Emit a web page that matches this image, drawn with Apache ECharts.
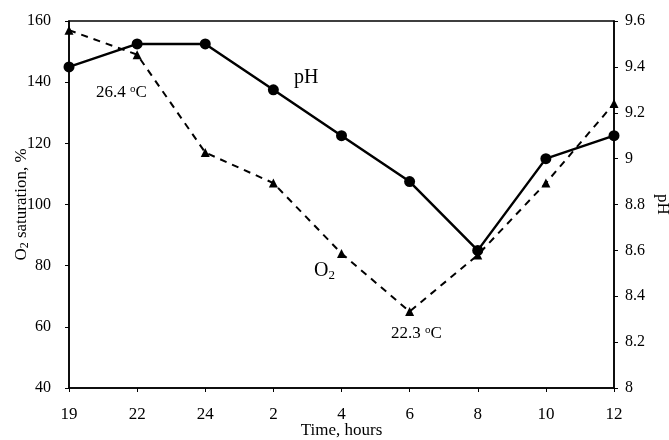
<!DOCTYPE html>
<html>
<head>
<meta charset="utf-8">
<script src="https://cdn.jsdelivr.net/npm/echarts@6/dist/echarts.min.js"></script>
<style>
  html, body { margin: 0; padding: 0; background: #fff; }
  #chart { width: 669px; height: 440px; }
</style>
</head>
<body>
<div id="chart"></div>
<script>
// data
var hours = ['19', '22', '24', '2', '4', '6', '8', '10', '12'];
var o2Saturation = [157, 149, 117, 107, 84, 65, 83.5, 107, 133];
var phValues = [9.4, 9.5, 9.5, 9.3, 9.1, 8.9, 8.6, 9.0, 9.1];

var serif = 'Liberation Serif';
var chart = echarts.init(document.getElementById('chart'));

var option = {
    backgroundColor: '#fff',
    animation: false,
    textStyle: { fontFamily: serif, color: '#000' },
    grid: {
        left: 69, right: 55, top: 21, bottom: 52,
        outerBoundsMode: 'none',
        show: true, borderColor: '#000', borderWidth: 1.5
    },
    xAxis: {
        type: 'category',
        data: hours,
        boundaryGap: false,
        name: 'Time, hours',
        nameLocation: 'middle',
        nameGap: 34,
        nameMoveOverlap: false,
        nameTextStyle: { fontFamily: serif, fontSize: 17, color: '#000' },
        axisLine: { lineStyle: { color: '#000', width: 1.5 } },
        axisTick: { alignWithLabel: true, length: 4, lineStyle: { color: '#000' } },
        axisLabel: { fontFamily: serif, fontSize: 17, color: '#000', margin: 18 },
        splitLine: { show: false }
    },
    yAxis: [
        {
            type: 'value',
            min: 40, max: 160, interval: 20,
            name: '{t|O}{s|2}{t| saturation, %}',
            nameLocation: 'middle',
            nameRotate: 90,
            nameGap: 38,
            nameMoveOverlap: false,
            nameTextStyle: {
                rich: {
                    t: { fontFamily: serif, fontSize: 17, color: '#000' },
                    s: { fontFamily: serif, fontSize: 12, color: '#000', verticalAlign: 'bottom', padding: [7, 0, 0, 0] }
                }
            },
            axisLine: { show: true, lineStyle: { color: '#000', width: 1.5 } },
            axisTick: { show: true, length: 4, lineStyle: { color: '#000' } },
            axisLabel: { fontFamily: serif, fontSize: 16, color: '#000', margin: 18 },
            splitLine: { show: false }
        },
        {
            type: 'value',
            min: 8, max: 9.6, interval: 0.2,
            name: 'pH',
            nameLocation: 'middle',
            nameRotate: -90,
            nameGap: 40,
            nameMoveOverlap: false,
            nameTextStyle: { fontFamily: serif, fontSize: 17, color: '#000' },
            axisLine: { show: true, lineStyle: { color: '#000', width: 1.5 } },
            axisTick: { show: true, length: 4, lineStyle: { color: '#000' } },
            axisLabel: {
                fontFamily: serif, fontSize: 16, color: '#000', margin: 11,
                formatter: function (v) { return String(Math.round(v * 10) / 10); }
            },
            splitLine: { show: false }
        }
    ],
    series: [
        {
            name: 'O2',
            type: 'line',
            yAxisIndex: 0,
            data: o2Saturation,
            symbol: 'triangle',
            symbolSize: 9,
            itemStyle: { color: '#000' },
            lineStyle: { color: '#000', width: 2, type: [7, 6] },
            z: 3
        },
        {
            name: 'pH',
            type: 'line',
            yAxisIndex: 1,
            data: phValues,
            symbol: 'circle',
            symbolSize: 11,
            itemStyle: { color: '#000' },
            lineStyle: { color: '#000', width: 2.5 },
            z: 4
        }
    ],
    graphic: [
        {
            type: 'text', left: 96, top: 84,
            style: {
                text: '{t|26.4 }{s|o}{t|C}',
                rich: {
                    t: { fontFamily: serif, fontSize: 17, fill: '#000' },
                    s: { fontFamily: serif, fontSize: 11, fill: '#000', verticalAlign: 'top', padding: [0, 0, 7, 0] }
                }
            }
        },
        {
            type: 'text', left: 294, top: 68,
            style: { text: 'pH', fontFamily: serif, fontSize: 20, fill: '#000' }
        },
        {
            type: 'text', left: 314, top: 261,
            style: {
                text: '{t|O}{s|2}',
                rich: {
                    t: { fontFamily: serif, fontSize: 20, fill: '#000' },
                    s: { fontFamily: serif, fontSize: 13, fill: '#000', verticalAlign: 'bottom', padding: [9, 0, 0, 0] }
                }
            }
        },
        {
            type: 'text', left: 391, top: 325,
            style: {
                text: '{t|22.3 }{s|o}{t|C}',
                rich: {
                    t: { fontFamily: serif, fontSize: 17, fill: '#000' },
                    s: { fontFamily: serif, fontSize: 11, fill: '#000', verticalAlign: 'top', padding: [0, 0, 7, 0] }
                }
            }
        }
    ]
};

chart.setOption(option);
</script>
</body>
</html>
